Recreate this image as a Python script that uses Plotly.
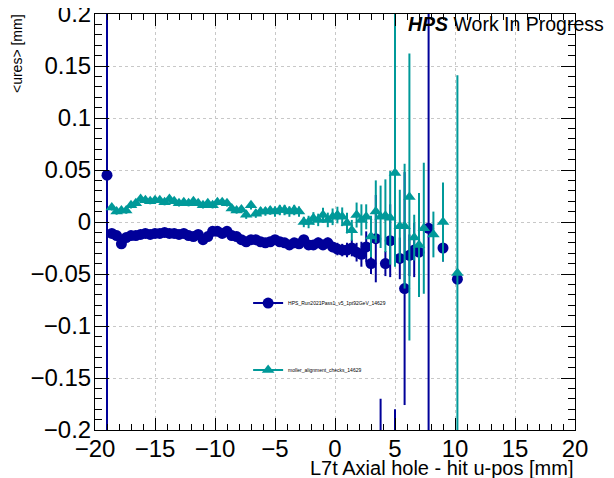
import plotly.graph_objects as go

# ---------------- data ----------------
blue_x = [-19.0, -18.6, -18.2, -17.8, -17.4, -17.0, -16.6, -16.2, -15.8, -15.4,
          -15.0, -14.6, -14.2, -13.8, -13.4, -13.0, -12.6, -12.2, -11.8, -11.4,
          -11.0, -10.6, -10.2, -9.8, -9.4, -9.0, -8.6, -8.2, -7.8, -7.4,
          -7.0, -6.6, -6.2, -5.8, -5.4, -5.0, -4.6, -4.2, -3.8, -3.4,
          -3.0, -2.6, -2.2, -1.8, -1.4, -1.0, -0.6, -0.2, 0.2, 0.6,
          1.0, 1.4, 1.8, 2.2, 2.6, 3.0, 3.4, 3.8, 4.2, 4.6,
          5.0, 5.4, 5.8, 6.2, 6.6, 7.0, 7.8, 9.0, 10.2]
blue_y = [0.045, -0.011, -0.013, -0.021, -0.015, -0.013, -0.013, -0.012, -0.011, -0.012,
          -0.011, -0.011, -0.010, -0.011, -0.011, -0.012, -0.011, -0.013, -0.014, -0.012,
          -0.017, -0.014, -0.009, -0.009, -0.011, -0.009, -0.013, -0.014, -0.017, -0.019,
          -0.017, -0.017, -0.019, -0.020, -0.019, -0.017, -0.019, -0.020, -0.022, -0.020,
          -0.021, -0.017, -0.022, -0.022, -0.020, -0.022, -0.020, -0.024, -0.026, -0.027,
          -0.027, -0.025, -0.029, -0.031, -0.024, -0.040, -0.016, -0.330, -0.040, -0.018,
          -0.320, -0.035, -0.064, -0.032, -0.027, -0.029, -0.006, -0.025, -0.055]
blue_err = [0.300, 0.002, 0.002, 0.002, 0.002, 0.002, 0.002, 0.002, 0.002, 0.002,
            0.002, 0.002, 0.002, 0.002, 0.002, 0.002, 0.002, 0.002, 0.002, 0.002,
            0.002, 0.002, 0.002, 0.002, 0.002, 0.002, 0.002, 0.002, 0.002, 0.002,
            0.002, 0.002, 0.003, 0.003, 0.003, 0.003, 0.003, 0.003, 0.003, 0.004,
            0.004, 0.004, 0.004, 0.004, 0.005, 0.005, 0.005, 0.005, 0.006, 0.006,
            0.007, 0.008, 0.009, 0.012, 0.015, 0.010, 0.042, 0.160, 0.012, 0.035,
            0.140, 0.020, 0.112, 0.020, 0.026, 0.020, 0.350, 0.013, 0.004]

teal_x = [-18.6, -18.2, -17.8, -17.4, -17.0, -16.6, -16.2, -15.8, -15.4,
          -15.0, -14.6, -14.2, -13.8, -13.4, -13.0, -12.6, -12.2, -11.8, -11.4,
          -11.0, -10.6, -10.2, -9.8, -9.4, -9.0, -8.6, -8.2, -7.8, -7.4,
          -7.0, -6.6, -6.2, -5.8, -5.4, -5.0, -4.6, -4.2, -3.8, -3.4,
          -3.0, -2.6, -2.2, -1.8, -1.4, -1.0, -0.6, -0.2, 0.2, 0.6,
          1.0, 1.4, 1.8, 2.2, 2.6, 3.0, 3.4, 3.8, 4.2, 4.6,
          5.0, 5.4, 5.8, 6.2, 6.6, 7.0, 7.4, 8.2, 9.0, 10.2]
teal_y = [0.014, 0.010, 0.011, 0.011, 0.016, 0.018, 0.022, 0.021, 0.020,
          0.021, 0.021, 0.019, 0.022, 0.020, 0.018, 0.019, 0.018, 0.020, 0.018,
          0.016, 0.018, 0.016, 0.019, 0.019, 0.018, 0.013, 0.011, 0.012, 0.007,
          0.016, 0.008, 0.010, 0.010, 0.011, 0.010, 0.0115, 0.0115, 0.010, 0.0115,
          0.010, 0.000, 0.000, 0.0035, 0.002, 0.0067, 0.002, 0.005, 0.0067, 0.005,
          -0.001, -0.008, 0.0067, 0.002, 0.005, -0.014, 0.010, 0.005, 0.006, 0.004,
          0.047, -0.004, -0.004, 0.024, -0.015, -0.022, -0.006, -0.012, 0.000, -0.049]
teal_err_up = [0.003, 0.003, 0.003, 0.003, 0.003, 0.003, 0.003, 0.003, 0.003,
               0.003, 0.003, 0.003, 0.003, 0.003, 0.003, 0.003, 0.003, 0.003, 0.003,
               0.003, 0.003, 0.003, 0.003, 0.003, 0.003, 0.003, 0.003, 0.003, 0.004,
               0.004, 0.004, 0.004, 0.004, 0.004, 0.005, 0.005, 0.005, 0.005, 0.005,
               0.005, 0.005, 0.006, 0.006, 0.006, 0.007, 0.007, 0.008, 0.008, 0.009,
               0.010, 0.010, 0.012, 0.015, 0.012, 0.020, 0.030, 0.030, 0.035, 0.045,
               0.200, 0.035, 0.060, 0.138, 0.022, 0.050, 0.063, 0.022, 0.038, 0.190]
teal_err_down = [0.003, 0.003, 0.003, 0.003, 0.003, 0.003, 0.003, 0.003, 0.003,
                 0.003, 0.003, 0.003, 0.003, 0.003, 0.003, 0.003, 0.003, 0.003, 0.003,
                 0.003, 0.003, 0.003, 0.003, 0.003, 0.003, 0.003, 0.003, 0.003, 0.004,
                 0.004, 0.004, 0.004, 0.004, 0.004, 0.005, 0.005, 0.005, 0.005, 0.005,
                 0.005, 0.005, 0.006, 0.006, 0.006, 0.007, 0.007, 0.008, 0.008, 0.009,
                 0.010, 0.010, 0.012, 0.015, 0.012, 0.020, 0.030, 0.030, 0.035, 0.045,
                 0.090, 0.035, 0.060, 0.138, 0.022, 0.050, 0.063, 0.022, 0.038, 0.190]

blue_name = "HPS_Run2021Pass1_v5_1pt92GeV_14629"
teal_name = "moller_alignment_checks_14629"
x_tickvals = [-20, -15, -10, -5, 0, 5, 10, 15, 20]
y_tickvals = [-0.2, -0.15, -0.1, -0.05, 0, 0.05, 0.1, 0.15, 0.2]

BLUE = "#000099"
TEAL = "#009999"
FONT = "Liberation Sans, Arial, sans-serif"

fig = go.Figure()

fig.add_trace(go.Scatter(
    x=blue_x, y=blue_y, mode="markers", showlegend=False, cliponaxis=True,
    marker=dict(symbol="circle", size=11, color=BLUE),
    error_y=dict(type="data", array=blue_err, color=BLUE, thickness=2, width=0),
))
fig.add_trace(go.Scatter(
    x=teal_x, y=teal_y, mode="markers", showlegend=False, cliponaxis=True,
    marker=dict(symbol="triangle-up", size=11, color=TEAL),
    error_y=dict(type="data", symmetric=False, array=teal_err_up, arrayminus=teal_err_down,
                 color=TEAL, thickness=2, width=0),
))
# legend entries
fig.add_trace(go.Scatter(
    x=[None], y=[None], mode="lines+markers", name=blue_name, legendgroup="a",
    line=dict(color=BLUE, width=2), marker=dict(symbol="circle", size=11, color=BLUE),
))
fig.add_trace(go.Scatter(
    x=[None], y=[None], mode="lines+markers", name=teal_name, legendgroup="b",
    line=dict(color=TEAL, width=2), marker=dict(symbol="triangle-up", size=11, color=TEAL),
))

axis_common = dict(
    showline=True, linecolor="black", linewidth=1, mirror="ticks",
    ticks="inside", tickcolor="black", zeroline=False, automargin=False,
    ticklabeloverflow="allow",
    showgrid=True, gridcolor="#c8c8c8", griddash="dot", gridwidth=1,
    tickfont=dict(family=FONT, size=24, color="black"),
)

fig.update_xaxes(range=[-20, 20], tickvals=x_tickvals, ticklen=12, ticklabelstandoff=-3,
                 minor=dict(ticks="inside", ticklen=6, dtick=1, tickcolor="black", showgrid=False),
                 **axis_common)
fig.update_yaxes(range=[-0.2, 0.2], tickvals=y_tickvals, ticklen=14, ticklabelstandoff=-2,
                 minor=dict(ticks="inside", ticklen=7, dtick=0.01, tickcolor="black", showgrid=False),
                 **axis_common)

fig.update_layout(
    width=614, height=478,
    margin=dict(l=87, r=47, t=6, b=56, pad=0, autoexpand=False),
    paper_bgcolor="white", plot_bgcolor="white",
    font=dict(family=FONT, color="black"),
    showlegend=True,
    legend=dict(x=0.319, y=0.34, xanchor="left", yanchor="top",
                bgcolor="rgba(0,0,0,0)", borderwidth=0,
                font=dict(family=FONT, size=5, color="black"),
                tracegroupgap=48, itemwidth=30),
    annotations=[
        dict(text="<b><i>HPS</i></b> Work In Progress", xref="paper", yref="paper",
             x=(406 - 95) / 480, y=1 - (24 - 14) / 416, xanchor="left", yanchor="middle",
             showarrow=False, font=dict(family=FONT, size=19.5, color="black")),
        dict(text="L7t Axial hole - hit u-pos [mm]", xref="paper", yref="paper",
             x=1.0, y=-(468 - 430) / 416, xanchor="right", yanchor="middle",
             showarrow=False, font=dict(family=FONT, size=20, color="black")),
        dict(text="&lt;ures&gt; [mm]", xref="paper", yref="paper", textangle=-90,
             x=-(95 - 17) / 480, y=1 - (54 - 14) / 416, xanchor="center", yanchor="middle",
             showarrow=False, font=dict(family=FONT, size=14, color="black")),
    ],
)

fig.write_html("out.html")
